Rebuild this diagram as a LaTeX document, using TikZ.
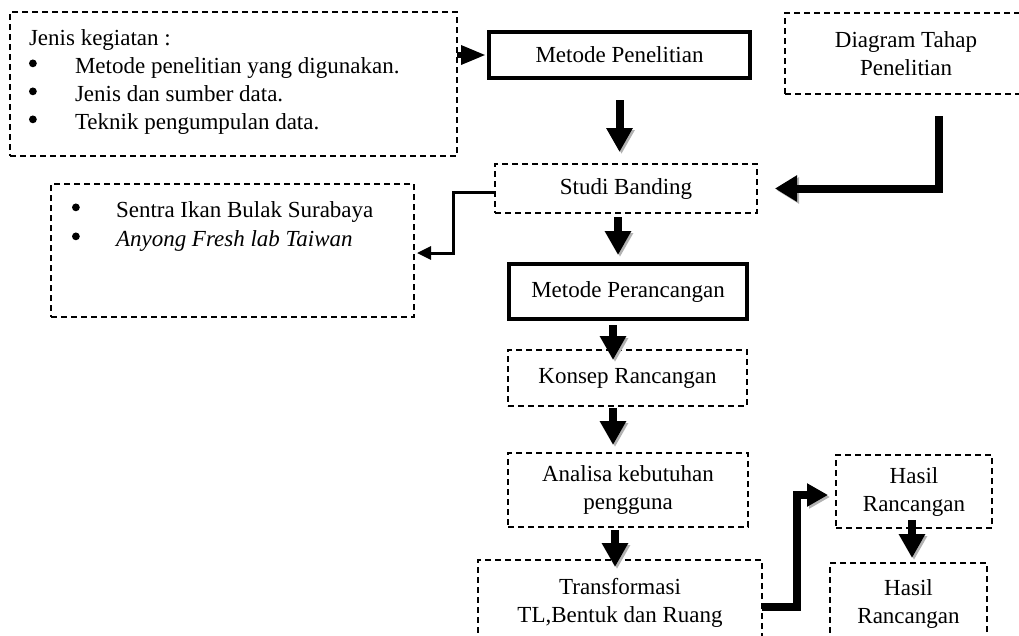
\documentclass[tikz,border=0pt]{standalone}
\usepackage{fontspec}
\setmainfont{Liberation Serif}
\usetikzlibrary{arrows.meta}
\newcommand\mybul[1]{\makebox[#1][l]{\raisebox{6pt}{\tikz\fill (0pt,0pt) circle (3.9pt);}}}
\begin{document}
\begin{tikzpicture}[x=1pt,y=-1pt,
  every node/.style={inner sep=0pt, outer sep=0pt, font=\fontsize{23}{28}\selectfont},
  dbox/.style={draw, line width=1.2pt, dash pattern=on 6pt off 4pt, align=center},
  sbox/.style={draw, line width=4pt, align=center},
  shadowed/.style={preaction={draw=black!30, transform canvas={shift={(2pt,-2pt)}}}},
  bigarrow/.style={shadowed, line width=8pt, -{Triangle[length=24pt,width=25pt]}},
  slimarrow/.style={line width=3pt, -{Triangle[length=14pt,width=13pt]}}]
\useasboundingbox (0,0) rectangle (1019,635);

% boxes
\node[dbox, minimum width=447pt, minimum height=144pt] (A) at (233.5,84) {};
\node[anchor=north west, align=left] (Atext) at (29,29.3)
  {Jenis kegiatan :\\
   \mybul{46pt}Metode penelitian yang digunakan.\\
   \mybul{46pt}Jenis dan sumber data.\\
   \mybul{46pt}Teknik pengumpulan data.};
\node[sbox, minimum width=261pt, minimum height=46pt] (B) at (619.5,55) {Metode Penelitian};
\node[dbox, minimum width=242pt, minimum height=81pt] (C) at (906,53.5) {Diagram Tahap\\Penelitian};
\node[dbox, minimum width=262pt, minimum height=49pt] (S) at (626,188.5) {Studi Banding};
\node[dbox, minimum width=363pt, minimum height=133pt] (D) at (232.5,250.5) {};
\node[anchor=north west, align=left, font=\fontsize{23}{29}\selectfont] (Dtext) at (72,201.3)
  {\mybul{44pt}Sentra Ikan Bulak Surabaya\\
   \mybul{44pt}\textit{Anyong Fresh lab Taiwan}};
\node[sbox, minimum width=238pt, minimum height=55pt] (P) at (628,291.5) {Metode Perancangan};
\node[dbox, minimum width=239pt, minimum height=56pt] (K) at (627.5,378) {Konsep Rancangan};
\node[dbox, minimum width=240pt, minimum height=74pt] (N) at (628,490) {Analisa kebutuhan\\pengguna};
\node[dbox, minimum width=284pt, minimum height=85pt] (T) at (620,602.5) {Transformasi\\TL,Bentuk dan Ruang};
\node[dbox, minimum width=156pt, minimum height=73pt] (H1) at (914,491.5) {Hasil\\Rancangan};
\node[dbox, minimum width=157pt, minimum height=82pt] (H2) at (908.5,604) {Hasil\\Rancangan};

% connectors
\draw[bigarrow, line width=6pt, -{Triangle[length=25pt,width=18pt]}, shorten >=3pt]
  (A.east |- B.west) -- (B.west);
\draw[bigarrow, shorten <=22pt, shorten >=12pt] (B.south) -- (B.south |- S.north);
\draw[bigarrow, shorten <=4pt, shorten >=9pt]
  ([xshift=-8pt]S.south) -- ([xshift=-8pt]S.south |- P.north);
\draw[bigarrow, shorten <=6pt, shorten >=-10pt]
  ([xshift=-15pt]P.south) -- ([xshift=-15pt]P.south |- K.north);
\draw[bigarrow, shorten <=2pt, shorten >=8pt]
  ([xshift=-14.5pt]K.south) -- ([xshift=-14.5pt]K.south |- N.north);
\draw[bigarrow, shorten <=3pt, shorten >=-7pt]
  ([xshift=-13pt]N.south) -- ([xshift=-13pt]N.south |- T.north);
\draw[bigarrow, -{Triangle[length=21pt,width=22pt]}]
  ([yshift=-4.5pt]T.east) -- ++(35,0) |- ([xshift=-8pt,yshift=-3.5pt]H1.west);
\draw[bigarrow, shorten <=-8pt, shorten >=5pt]
  ([xshift=-2pt]H1.south) -- ([xshift=-2pt]H1.south |- H2.north);
\draw[bigarrow, -{Triangle[length=22pt,width=25pt]}, shorten <=22pt]
  ([xshift=33pt]C.south) |- ([xshift=18pt]S.east);
\draw[slimarrow]
  ([yshift=-3.5pt]S.west) -- ++(-42,0) |- ([xshift=3pt,yshift=-2.5pt]D.east);
\end{tikzpicture}
\end{document}
